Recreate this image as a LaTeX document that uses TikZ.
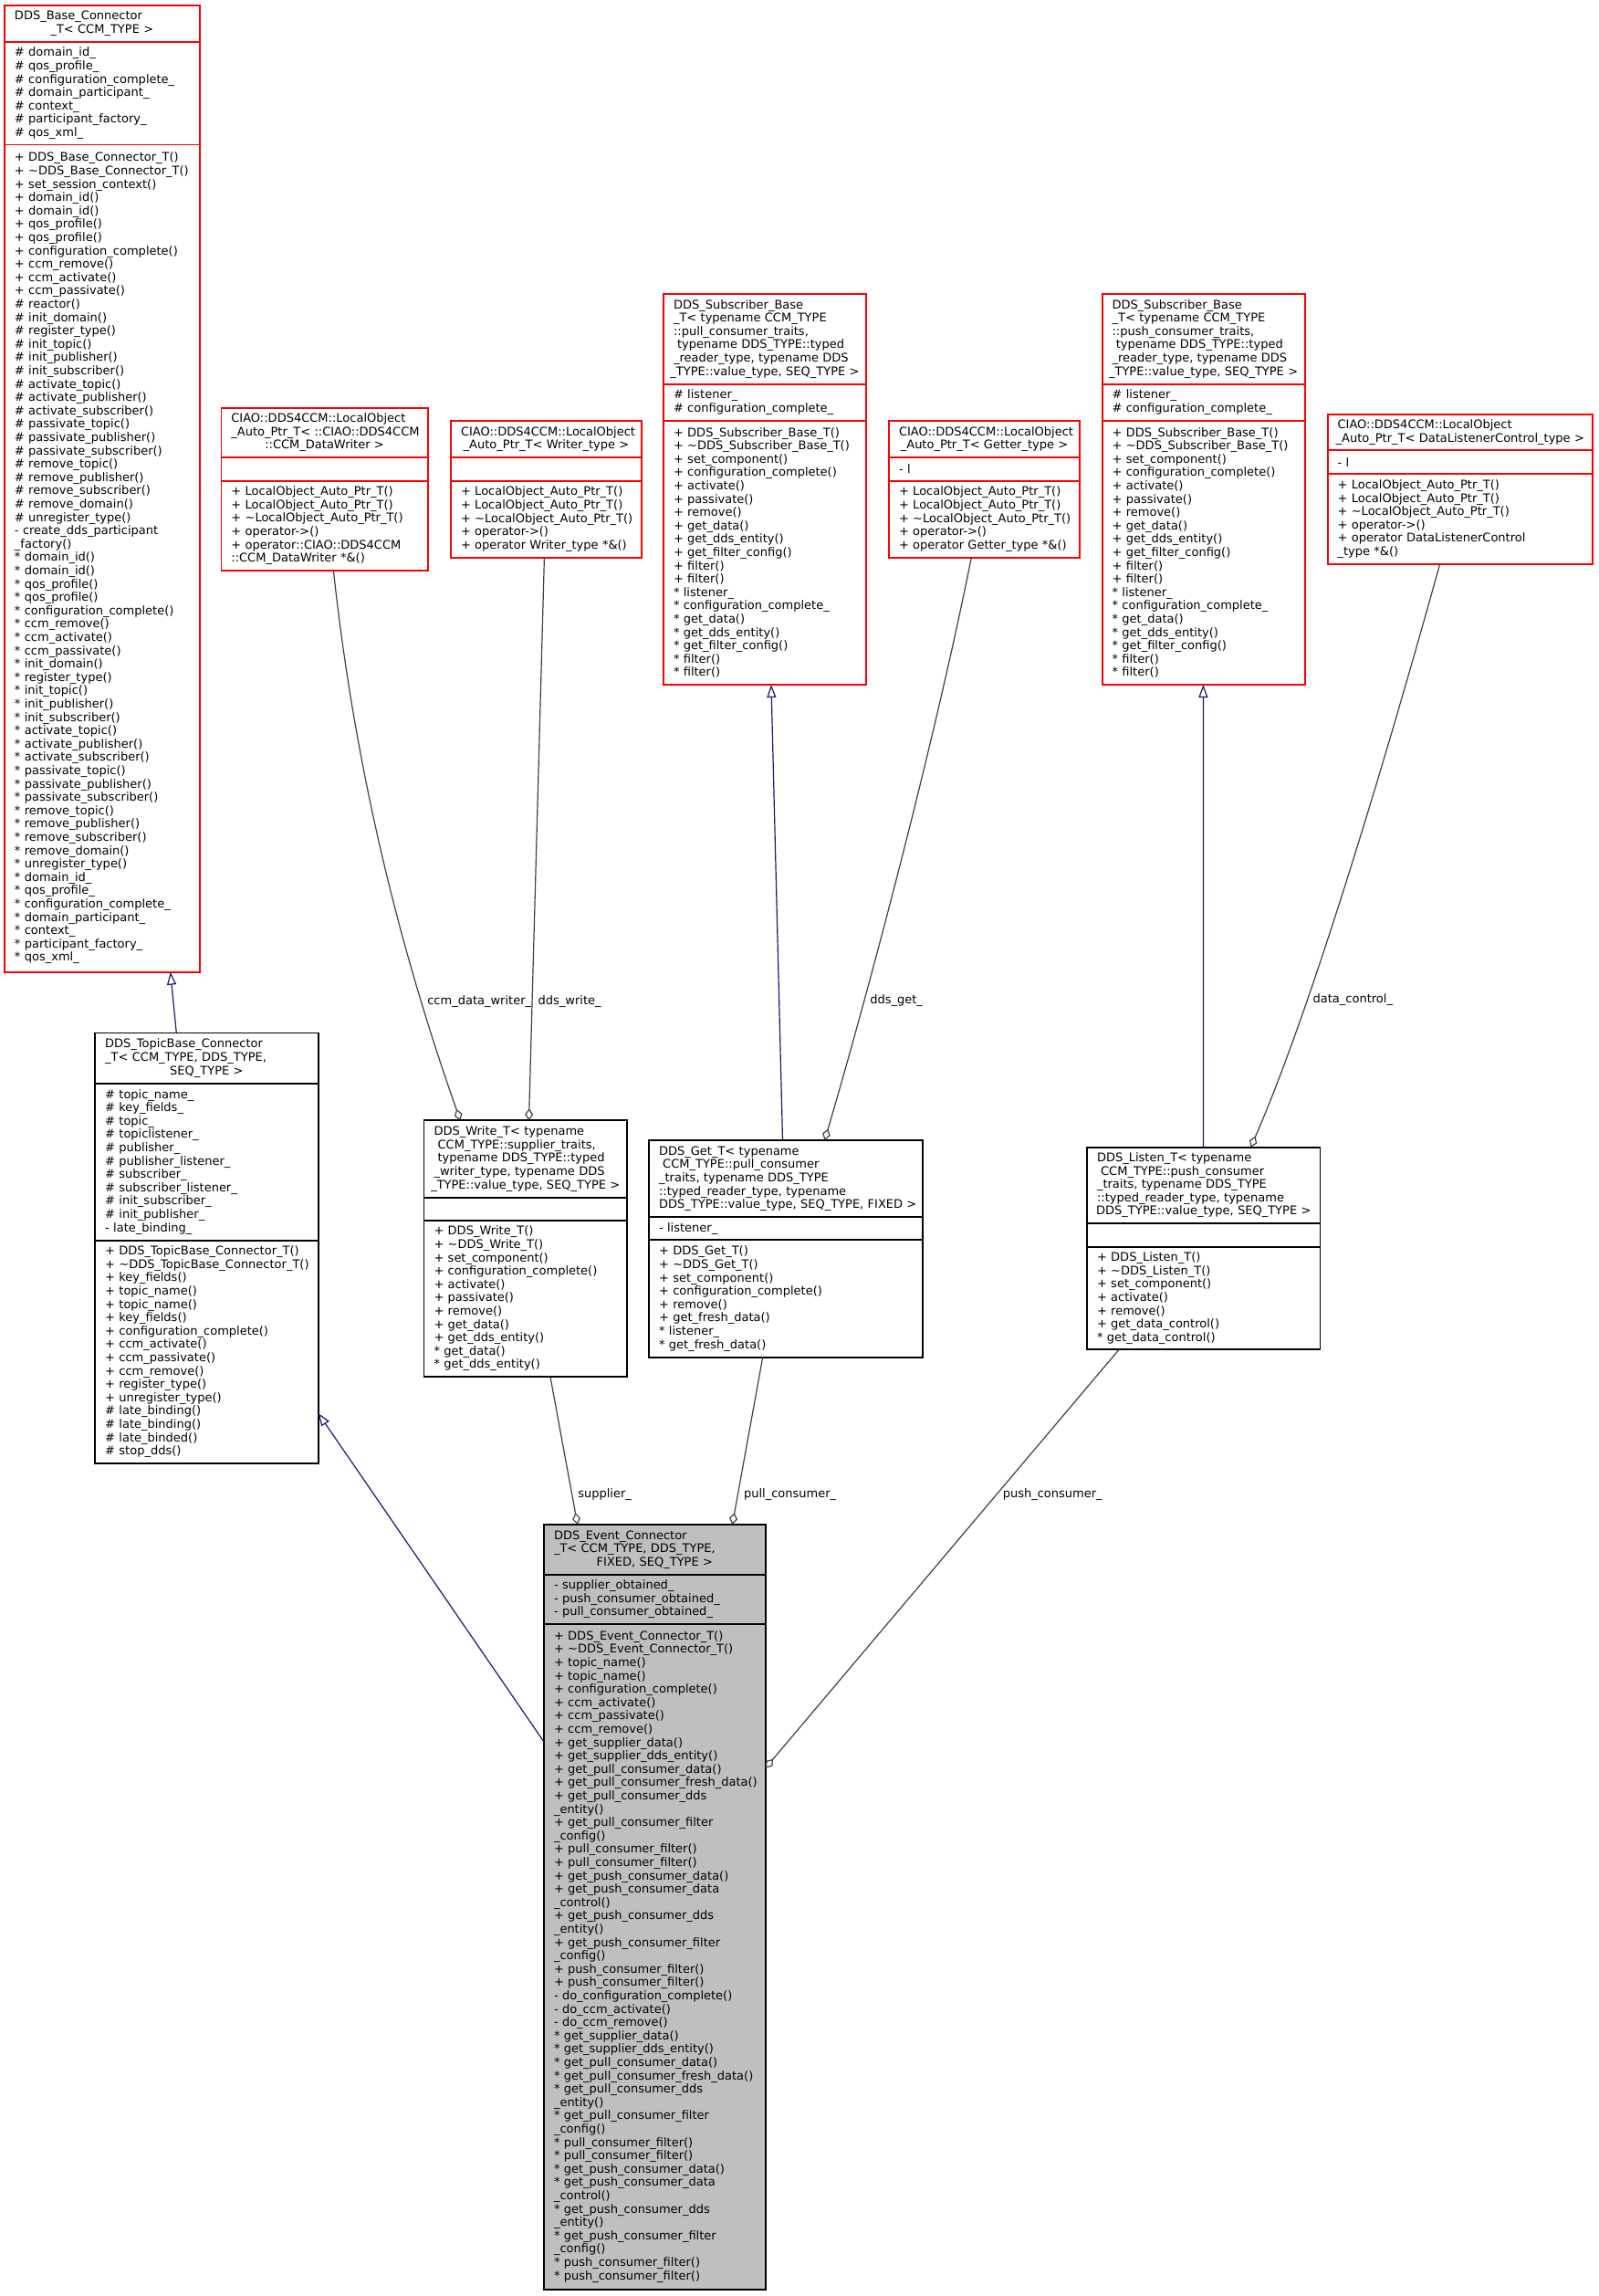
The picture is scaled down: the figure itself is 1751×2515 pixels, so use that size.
\documentclass[tikz,border=0pt]{standalone}
\usepackage{fontspec}
\usepackage{xcolor}
\usepackage{tikz}
\usetikzlibrary{arrows.meta}
\newfontfamily\boxFont{DejaVu Sans}
\newcommand*{\nodeFont}{\boxFont\fontsize{6.5pt}{7.3pt}\selectfont\hyphenpenalty=10000\exhyphenpenalty=10000}
\newcommand*{\hcentre}[1]{\makebox[\linewidth][c]{#1}}
\newcommand*{\lsp}{\hspace*{0.318em}}
\definecolor{edgeBlue}{HTML}{191970}
\definecolor{edgeGrey}{HTML}{404040}
\definecolor{focusFill}{HTML}{BFBFBF}
\newcommand*{\autoOps}{+~LocalObject\_Auto\_Ptr\_T()\\+~LocalObject\_Auto\_Ptr\_T()\\+~\textasciitilde LocalObject\_Auto\_Ptr\_T()\\+~operator->()}
\newcommand*{\subOps}{+~DDS\_Subscriber\_Base\_T()\\+~\textasciitilde DDS\_Subscriber\_Base\_T()\\+~set\_component()\\+~configuration\_complete()\\+~activate()\\+~passivate()\\+~remove()\\+~get\_data()\\+~get\_dds\_entity()\\+~get\_filter\_config()\\+~filter()\\+~filter()\\{*}~listener\_\\{*}~configuration\_complete\_\\{*}~get\_data()\\{*}~get\_dds\_entity()\\{*}~get\_filter\_config()\\{*}~filter()\\{*}~filter()}

\tikzset{
  part/.style={draw=black, rectangle, anchor=north west, outer sep=0pt, inner xsep=5.5pt, inner ysep=0pt, align=left, font=\nodeFont, line width=0.9pt},
  undoc/.style={part, draw=red},
  focus/.style={part, fill=focusFill},
  dims/.style 2 args={minimum width=#1, text width=#2},
  inherit/.style={draw=edgeBlue, line width=0.6pt, -{Triangle[open, length=7pt, width=5pt]}},
  aggr/.style={draw=edgeGrey, line width=0.6pt, -{Diamond[open, length=6.5pt, width=4.5pt]}},
  lbl/.style={anchor=west, inner xsep=3pt, inner ysep=0pt, font=\nodeFont}
}

\begin{document}
\begin{tikzpicture}[x=0.5pt, y=-0.5pt]
    \useasboundingbox (0,0) rectangle (1751,2515);

    \node [undoc, dims={106.85pt}{95.85pt}, minimum height=20pt] (baseH) at (5,6)
      {DDS\_Base\_Connector\\\hcentre{\_T<~CCM\_TYPE~>}};
    \node [undoc, dims={106.85pt}{95.85pt}, minimum height=56.25pt] (baseA) at (baseH.south west)
      {\#~domain\_id\_\\\#~qos\_profile\_\\\#~configuration\_complete\_\\\#~domain\_participant\_\\\#~context\_\\\#~participant\_factory\_\\\#~qos\_xml\_};
    \node [undoc, dims={106.85pt}{95.85pt}, minimum height=453.1pt] (baseO) at (baseA.south west)
      {+~DDS\_Base\_Connector\_T()\\+~\textasciitilde DDS\_Base\_Connector\_T()\\+~set\_session\_context()\\+~domain\_id()\\+~domain\_id()\\+~qos\_profile()\\+~qos\_profile()\\+~configuration\_complete()\\+~ccm\_remove()\\+~ccm\_activate()\\+~ccm\_passivate()\\\#~reactor()\\\#~init\_domain()\\\#~register\_type()\\\#~init\_topic()\\\#~init\_publisher()\\\#~init\_subscriber()\\\#~activate\_topic()\\\#~activate\_publisher()\\\#~activate\_subscriber()\\\#~passivate\_topic()\\\#~passivate\_publisher()\\\#~passivate\_subscriber()\\\#~remove\_topic()\\\#~remove\_publisher()\\\#~remove\_subscriber()\\\#~remove\_domain()\\\#~unregister\_type()\\-~create\_dds\_participant\\\_factory()\\{*}~domain\_id()\\{*}~domain\_id()\\{*}~qos\_profile()\\{*}~qos\_profile()\\{*}~configuration\_complete()\\{*}~ccm\_remove()\\{*}~ccm\_activate()\\{*}~ccm\_passivate()\\{*}~init\_domain()\\{*}~register\_type()\\{*}~init\_topic()\\{*}~init\_publisher()\\{*}~init\_subscriber()\\{*}~activate\_topic()\\{*}~activate\_publisher()\\{*}~activate\_subscriber()\\{*}~passivate\_topic()\\{*}~passivate\_publisher()\\{*}~passivate\_subscriber()\\{*}~remove\_topic()\\{*}~remove\_publisher()\\{*}~remove\_subscriber()\\{*}~remove\_domain()\\{*}~unregister\_type()\\{*}~domain\_id\_\\{*}~qos\_profile\_\\{*}~configuration\_complete\_\\{*}~domain\_participant\_\\{*}~context\_\\{*}~participant\_factory\_\\{*}~qos\_xml\_};

    \node [undoc, dims={113.2pt}{102.2pt}, minimum height=27.15pt] (dwH) at (242.4,446.7)
      {CIAO::DDS4CCM::LocalObject\\\_Auto\_Ptr\_T<~::CIAO::DDS4CCM\\\hcentre{::CCM\_DataWriter~>}};
    \node [undoc, dims={113.2pt}{102.2pt}, minimum height=12.85pt] (dwA) at (dwH.south west) {};
    \node [undoc, dims={113.2pt}{102.2pt}, minimum height=49.15pt] (dwO) at (dwA.south west)
      {\autoOps\\+~operator::CIAO::DDS4CCM\\::CCM\_DataWriter~*\&()};

    \node [undoc, dims={104.5pt}{93.5pt}, minimum height=20pt] (wpH) at (494,461)
      {CIAO::DDS4CCM::LocalObject\\\hcentre{\_Auto\_Ptr\_T<~Writer\_type~>}};
    \node [undoc, dims={104.5pt}{93.5pt}, minimum height=12.85pt] (wpA) at (wpH.south west) {};
    \node [undoc, dims={104.5pt}{93.5pt}, minimum height=42pt] (wpO) at (wpA.south west)
      {\autoOps\\+~operator~Writer\_type~*\&()};

    \node [undoc, dims={111pt}{100pt}, minimum height=49.5pt] (spH) at (727,321.7)
      {DDS\_Subscriber\_Base\\\_T<~typename~CCM\_TYPE\\::pull\_consumer\_traits,\\\lsp typename~DDS\_TYPE::typed\\\_reader\_type,~typename~DDS\\\hcentre{\_TYPE::value\_type,~SEQ\_TYPE~>}};
    \node [undoc, dims={111pt}{100pt}, minimum height=20pt] (spA) at (spH.south west)
      {\#~listener\_\\\#~configuration\_complete\_};
    \node [undoc, dims={111pt}{100pt}, minimum height=144.65pt] (spO) at (spA.south west) {\subOps};

    \node [undoc, dims={104.6pt}{93.6pt}, minimum height=20pt] (gpH) at (974,461)
      {CIAO::DDS4CCM::LocalObject\\\hcentre{\_Auto\_Ptr\_T<~Getter\_type~>}};
    \node [undoc, dims={104.6pt}{93.6pt}, minimum height=12.85pt] (gpA) at (gpH.south west) {-~l};
    \node [undoc, dims={104.6pt}{93.6pt}, minimum height=42pt] (gpO) at (gpA.south west)
      {\autoOps\\+~operator~Getter\_type~*\&()};

    \node [undoc, dims={111pt}{100pt}, minimum height=49.5pt] (shH) at (1207.6,321.7)
      {DDS\_Subscriber\_Base\\\_T<~typename~CCM\_TYPE\\::push\_consumer\_traits,\\\lsp typename~DDS\_TYPE::typed\\\_reader\_type,~typename~DDS\\\hcentre{\_TYPE::value\_type,~SEQ\_TYPE~>}};
    \node [undoc, dims={111pt}{100pt}, minimum height=20pt] (shA) at (shH.south west)
      {\#~listener\_\\\#~configuration\_complete\_};
    \node [undoc, dims={111pt}{100pt}, minimum height=144.65pt] (shO) at (shA.south west) {\subOps};

    \node [undoc, dims={145.2pt}{134.2pt}, minimum height=19.65pt] (lcH) at (1454.6,454)
      {CIAO::DDS4CCM::LocalObject\\\hcentre{\_Auto\_Ptr\_T<~DataListenerControl\_type~>}};
    \node [undoc, dims={145.2pt}{134.2pt}, minimum height=12.85pt] (lcA) at (lcH.south west) {-~l};
    \node [undoc, dims={145.2pt}{134.2pt}, minimum height=49.5pt] (lcO) at (lcA.south west)
      {\autoOps\\+~operator~DataListenerControl\\\_type~*\&()};

    \node [part, dims={122.2pt}{111.2pt}, minimum height=27.6pt] (tbH) at (104.2,1131.5)
      {DDS\_TopicBase\_Connector\\\_T<~CCM\_TYPE,~DDS\_TYPE,\\\hcentre{SEQ\_TYPE~>}};
    \node [part, dims={122.2pt}{111.2pt}, minimum height=86pt] (tbA) at (tbH.south west)
      {\#~topic\_name\_\\\#~key\_fields\_\\\#~topic\_\\\#~topiclistener\_\\\#~publisher\_\\\#~publisher\_listener\_\\\#~subscriber\_\\\#~subscriber\_listener\_\\\#~init\_subscriber\_\\\#~init\_publisher\_\\-~late\_binding\_};
    \node [part, dims={122.2pt}{111.2pt}, minimum height=122.15pt] (tbO) at (tbA.south west)
      {+~DDS\_TopicBase\_Connector\_T()\\+~\textasciitilde DDS\_TopicBase\_Connector\_T()\\+~key\_fields()\\+~topic\_name()\\+~topic\_name()\\+~key\_fields()\\+~configuration\_complete()\\+~ccm\_activate()\\+~ccm\_passivate()\\+~ccm\_remove()\\+~register\_type()\\+~unregister\_type()\\\#~late\_binding()\\\#~late\_binding()\\\#~late\_binded()\\\#~stop\_dds()};

    \node [part, dims={111.3pt}{100.3pt}, minimum height=42.2pt] (wrH) at (464.5,1227.3)
      {DDS\_Write\_T<~typename\\\lsp CCM\_TYPE::supplier\_traits,\\\lsp typename~DDS\_TYPE::typed\\\_writer\_type,~typename~DDS\\\hcentre{\_TYPE::value\_type,~SEQ\_TYPE~>}};
    \node [part, dims={111.3pt}{100.3pt}, minimum height=12.5pt] (wrA) at (wrH.south west) {};
    \node [part, dims={111.3pt}{100.3pt}, minimum height=85.8pt] (wrO) at (wrA.south west)
      {+~DDS\_Write\_T()\\+~\textasciitilde DDS\_Write\_T()\\+~set\_component()\\+~configuration\_complete()\\+~activate()\\+~passivate()\\+~remove()\\+~get\_data()\\+~get\_dds\_entity()\\{*}~get\_data()\\{*}~get\_dds\_entity()};

    \node [part, dims={150.05pt}{139.05pt}, minimum height=42.15pt] (gtH) at (711.1,1249)
      {DDS\_Get\_T<~typename\\\lsp CCM\_TYPE::pull\_consumer\\\_traits,~typename~DDS\_TYPE\\::typed\_reader\_type,~typename\\\hcentre{\lsp DDS\_TYPE::value\_type,~SEQ\_TYPE,~FIXED~>}};
    \node [part, dims={150.05pt}{139.05pt}, minimum height=12.5pt] (gtA) at (gtH.south west) {-~listener\_};
    \node [part, dims={150.05pt}{139.05pt}, minimum height=64.2pt] (gtO) at (gtA.south west)
      {+~DDS\_Get\_T()\\+~\textasciitilde DDS\_Get\_T()\\+~set\_component()\\+~configuration\_complete()\\+~remove()\\+~get\_fresh\_data()\\{*}~listener\_\\{*}~get\_fresh\_data()};

    \node [part, dims={127.75pt}{116.75pt}, minimum height=41.65pt] (lsH) at (1191,1256.7)
      {DDS\_Listen\_T<~typename\\\lsp CCM\_TYPE::push\_consumer\\\_traits,~typename~DDS\_TYPE\\::typed\_reader\_type,~typename\\\hcentre{DDS\_TYPE::value\_type,~SEQ\_TYPE~>}};
    \node [part, dims={127.75pt}{116.75pt}, minimum height=12.85pt] (lsA) at (lsH.south west) {};
    \node [part, dims={127.75pt}{116.75pt}, minimum height=56.3pt] (lsO) at (lsA.south west)
      {+~DDS\_Listen\_T()\\+~\textasciitilde DDS\_Listen\_T()\\+~set\_component()\\+~activate()\\+~remove()\\+~get\_data\_control()\\{*}~get\_data\_control()};

    \node [focus, dims={121.35pt}{110.35pt}, minimum height=27.35pt] (evH) at (596,1670)
      {DDS\_Event\_Connector\\\_T<~CCM\_TYPE,~DDS\_TYPE,\\\hcentre{FIXED,~SEQ\_TYPE~>}};
    \node [focus, dims={121.35pt}{110.35pt}, minimum height=27pt] (evA) at (evH.south west)
      {-~supplier\_obtained\_\\-~push\_consumer\_obtained\_\\-~pull\_consumer\_obtained\_};
    \node [focus, dims={121.35pt}{110.35pt}, minimum height=364.65pt] (evO) at (evA.south west)
      {+~DDS\_Event\_Connector\_T()\\+~\textasciitilde DDS\_Event\_Connector\_T()\\+~topic\_name()\\+~topic\_name()\\+~configuration\_complete()\\+~ccm\_activate()\\+~ccm\_passivate()\\+~ccm\_remove()\\+~get\_supplier\_data()\\+~get\_supplier\_dds\_entity()\\+~get\_pull\_consumer\_data()\\+~get\_pull\_consumer\_fresh\_data()\\+~get\_pull\_consumer\_dds\\\_entity()\\+~get\_pull\_consumer\_filter\\\_config()\\+~pull\_consumer\_filter()\\+~pull\_consumer\_filter()\\+~get\_push\_consumer\_data()\\+~get\_push\_consumer\_data\\\_control()\\+~get\_push\_consumer\_dds\\\_entity()\\+~get\_push\_consumer\_filter\\\_config()\\+~push\_consumer\_filter()\\+~push\_consumer\_filter()\\-~do\_configuration\_complete()\\-~do\_ccm\_activate()\\-~do\_ccm\_remove()\\{*}~get\_supplier\_data()\\{*}~get\_supplier\_dds\_entity()\\{*}~get\_pull\_consumer\_data()\\{*}~get\_pull\_consumer\_fresh\_data()\\{*}~get\_pull\_consumer\_dds\\\_entity()\\{*}~get\_pull\_consumer\_filter\\\_config()\\{*}~pull\_consumer\_filter()\\{*}~pull\_consumer\_filter()\\{*}~get\_push\_consumer\_data()\\{*}~get\_push\_consumer\_data\\\_control()\\{*}~get\_push\_consumer\_dds\\\_entity()\\{*}~get\_push\_consumer\_filter\\\_config()\\{*}~push\_consumer\_filter()\\{*}~push\_consumer\_filter()};

    \draw [inherit] (tbH.north -| 193.3,0) -- (baseO.south -| 186.7,0);
    \draw [inherit] (evO.west |- 0,1908) -- (tbO.east |- 0,1548);
    \draw [inherit] (gtH.north -| 857.5,0) -- (spO.south -| 845,0);
    \draw [inherit] (lsH.north -| 1318.5,0) -- (shO.south -| 1318.4,0);

    \draw [aggr] (dwO.south -| 365.4,0) .. controls +(29.6,275) and +(-41.4,-117.3) .. (wrH.north -| 504.4,0) node [lbl, pos=0.7] {ccm\_data\_writer\_};
    \draw [aggr] (wpO.south -| 596.4,0) -- (wrH.north -| 579.5,0) node [lbl, pos=0.789] {dds\_write\_};
    \draw [aggr] (gpO.south -| 1064.3,0) .. controls +(-40,200) and +(50,-170) .. (gtH.north -| 903.6,0) node [lbl, pos=0.735] {dds\_get\_};
    \draw [aggr] (lcO.south -| 1577.6,0) .. controls +(-50,180) and +(70,-160) .. (lsH.north -| 1370.4,0) node [lbl, pos=0.72] {data\_control\_};
    \draw [aggr] (wrO.south -| 603,0) -- (evH.north -| 632.8,0) node [lbl, pos=0.794] {supplier\_};
    \draw [aggr] (gtO.south -| 835.7,0) -- (evH.north -| 802.4,0) node [lbl, pos=0.818] {pull\_consumer\_};
    \draw [aggr] (lsO.south -| 1226,0) -- (evO.east |- 0,1936.7) node [lbl, pos=0.3455] {push\_consumer\_};
\end{tikzpicture}
\end{document}
